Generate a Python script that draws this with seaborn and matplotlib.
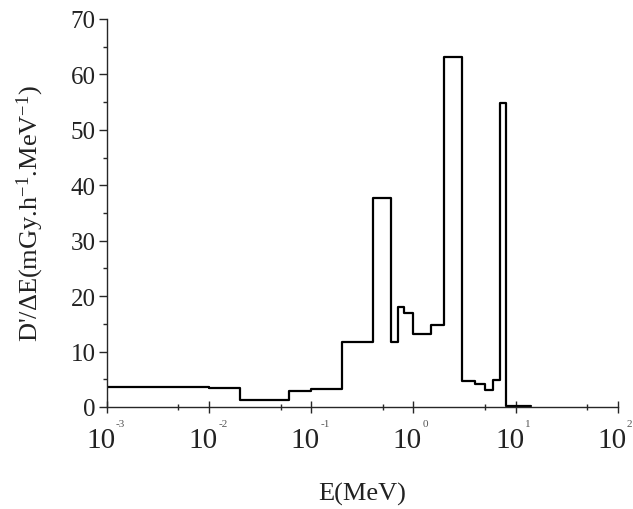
import numpy as np
import pandas as pd
import matplotlib
matplotlib.use("Agg")
import matplotlib.pyplot as plt
import matplotlib.transforms as mtransforms
from matplotlib.ticker import MultipleLocator, FixedLocator
import seaborn as sns

# bin edges (MeV) and dose-rate per energy bin
edges = [1e-3, 1e-2, 0.02, 0.06, 0.1, 0.2, 0.4, 0.6, 0.7, 0.8, 1.0,
         1.5, 2.0, 3.0, 4.0, 5.0, 6.0, 7.0, 8.0, 14.0]
values = [3.6, 3.4, 1.2, 2.8, 3.2, 11.7, 37.7, 11.7, 18.0, 17.0,
          13.1, 14.8, 63.2, 4.7, 4.1, 3.1, 4.9, 54.8, 0.2]
decades = [-3, -2, -1, 0, 1, 2]

df = pd.DataFrame({"E": edges, "D": values + [values[-1]]})

sns.set_style("ticks")
plt.rcParams["font.family"] = ["Liberation Serif", "DejaVu Serif"]
plt.rcParams["mathtext.fontset"] = "custom"
plt.rcParams["mathtext.rm"] = "Liberation Serif"
plt.rcParams["mathtext.it"] = "Liberation Serif:italic"
txt = "#222222"

fig, ax = plt.subplots(figsize=(6.33, 5.10), dpi=100)
fig.subplots_adjust(left=0.169, right=0.976, bottom=0.2, top=0.961)

sns.lineplot(data=df, x="E", y="D", drawstyle="steps-post",
             color="black", linewidth=1.6, ax=ax)

ax.set_xscale("log")
ax.set_xlim(1e-3, 1e2)
ax.set_ylim(0, 70)
sns.despine(ax=ax)
ax.spines["left"].set_linewidth(1.0)
ax.spines["bottom"].set_linewidth(1.0)

ax.yaxis.set_major_locator(MultipleLocator(10))
ax.yaxis.set_minor_locator(MultipleLocator(5))
ax.xaxis.set_major_locator(FixedLocator([10.0 ** d for d in decades]))
ax.xaxis.set_minor_locator(FixedLocator([5 * 10.0 ** d for d in decades[:-1]]))

ax.tick_params(axis="y", which="major", direction="out", length=6, width=1,
               labelsize=18, labelcolor=txt, pad=2)
ax.tick_params(axis="y", which="minor", direction="out", length=3, width=1)
ax.tick_params(axis="x", which="major", direction="inout", length=9, width=1,
               labelsize=21, labelcolor=txt, pad=10)
ax.tick_params(axis="x", which="minor", direction="inout", length=5, width=1)

ax.set_xticklabels(["10"] * len(decades))
shift = mtransforms.ScaledTranslation(-6 / 100, 0, fig.dpi_scale_trans)
for lab in ax.get_xticklabels():
    lab.set_transform(lab.get_transform() + shift)

# small exponents above-right of each "10"
trans = mtransforms.blended_transform_factory(ax.transData, ax.transAxes)
for d in decades:
    ax.annotate(str(d), xy=(10.0 ** d, 0), xycoords=trans,
                xytext=(6.5, -9), textcoords="offset points",
                fontsize=8, color="#555555", ha="left", va="top",
                annotation_clip=False)

ax.set_xlabel("E(MeV)", fontsize=19, color=txt, labelpad=21)
ax.set_ylabel("D'/ΔE(mGy.h$^{\\mathregular{-1}}$.MeV$^{\\mathregular{-1}}$)",
              fontsize=19, color=txt, labelpad=18)

fig.savefig("out.png", dpi=100)
